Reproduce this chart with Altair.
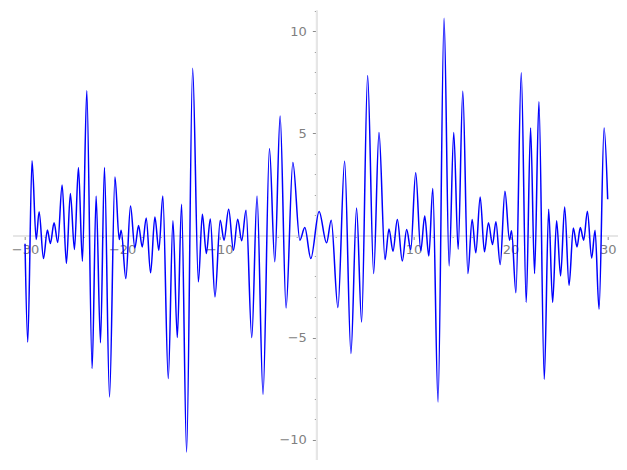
import altair as alt
import pandas as pd

# Curve (turning points of the oscillating signal)
xs = [-30.0, -29.72, -29.28, -28.85, -28.55, -28.1, -27.7, -27.39, -27.01, -26.63,
      -26.18, -25.74, -25.33, -24.91, -24.5, -24.09, -23.64, -23.09, -22.68, -22.23,
      -21.82, -21.3, -20.74, -20.3, -20.1, -19.62, -19.14, -18.69, -18.31, -17.93,
      -17.52, -17.07, -16.63, -16.22, -15.81, -15.25, -14.77, -14.32, -13.88, -13.36,
      -12.74, -12.15, -11.74, -11.33, -10.92, -10.44, -9.9, -9.51, -9.03, -8.54,
      -8.1, -7.69, -7.24, -6.65, -6.11, -5.49, -4.83, -4.28, -3.73, -3.12,
      -2.42, -1.7, -1.19, -0.57, 0.28, 1.05, 1.53, 2.22, 2.91, 3.56,
      4.14, 4.66, 5.28, 5.9, 6.45, 7.07, 7.48, 7.89, 8.34, 8.85,
      9.3, 9.72, 10.23, 10.75, 11.16, 11.58, 11.99, 12.53, 13.15, 13.67,
      14.15, 14.6, 15.08, 15.6, 16.04, 16.42, 16.87, 17.31, 17.72, 18.14,
      18.49, 18.93, 19.42, 19.89, 20.1, 20.55, 21.1, 21.61, 22.06, 22.47,
      22.92, 23.47, 23.92, 24.33, 24.74, 25.15, 25.57, 26.02, 26.46, 26.84,
      27.18, 27.53, 27.91, 28.35, 28.7, 29.11, 29.63, 30.0]
ys = [-0.4, -5.22, 3.66, -0.2, 1.16, -1.13, 0.27, -0.39, 0.62, -0.34,
      2.48, -1.37, 2.06, -0.69, 3.33, -1.26, 7.09, -6.52, 1.93, -5.25,
      3.33, -7.91, 2.87, -0.2, 0.26, -2.11, 1.45, -0.61, 0.49, -0.56,
      0.86, -1.83, 0.91, -0.72, 1.93, -7.01, 0.72, -5.0, 1.53, -10.61,
      8.2, -2.27, 1.04, -0.88, 0.81, -3.01, 0.75, -0.23, 1.29, -0.72,
      0.8, -0.26, 1.24, -5.0, 1.93, -7.78, 4.26, -1.29, 5.85, -3.55,
      3.58, -0.23, 0.39, -1.13, 1.18, -0.36, 0.75, -3.53, 3.64, -5.78,
      1.35, -4.24, 7.84, -1.86, 5.05, -1.18, 0.32, -0.77, 0.78, -1.25,
      0.29, -0.69, 3.07, -0.75, 0.95, -1.01, 2.3, -8.16, 10.64, -1.49,
      5.05, -0.67, 7.07, -1.86, 0.78, -0.85, 1.89, -0.8, 0.62, -0.44,
      0.67, -1.42, 2.17, -0.23, 0.23, -2.81, 7.97, -3.28, 5.27, -1.86,
      6.55, -7.04, 1.29, -3.28, 0.72, -1.98, 1.4, -2.44, 0.37, -0.56,
      0.39, -0.23, 1.19, -1.1, 0.26, -3.61, 5.27, 1.78]

x_major = [-30, -20, -10, 10, 20, 30]
y_major = [-10, -5, 5, 10]
x_minor = [v for v in range(-30, 31, 2) if v != 0 and v % 10 != 0]
y_minor = [v for v in range(-11, 12) if v != 0 and v % 5 != 0]

x_domain = [-31.27, 31.03]
y_domain = [-11.0, 11.05]

W, H = 605, 450
# y-axis sits at x = 0, x-axis sits at y = 0
yaxis_off = -(W * (0 - x_domain[0]) / (x_domain[1] - x_domain[0]))
xaxis_off = -(H * (0 - y_domain[0]) / (y_domain[1] - y_domain[0]))

df = pd.DataFrame({"x": xs, "y": ys})

xscale = alt.Scale(domain=x_domain, nice=False, zero=False)
yscale = alt.Scale(domain=y_domain, nice=False, zero=False)

common = dict(title=None, grid=False, domainColor="#e6e6e6", domainWidth=2,
              tickColor="#8c8c8c", tickWidth=1, labelColor="#808080",
              labelFont="DejaVu Sans", labelFontSize=13, zindex=0)

major_x = alt.Axis(orient="bottom", values=x_major, tickSize=4, labelPadding=4,
                   offset=xaxis_off, labelFlush=False, labelOverlap=False, **common)
major_y = alt.Axis(orient="left", values=y_major, tickSize=4, labelPadding=6,
                   offset=yaxis_off, labelOverlap=False, **common)
minor_x = alt.Axis(orient="bottom", values=x_minor, tickSize=2, labels=False,
                   offset=xaxis_off, **common)
minor_y = alt.Axis(orient="left", values=y_minor, tickSize=2, labels=False,
                   offset=yaxis_off, **common)

base = alt.Chart(df)
minor = base.mark_line(opacity=0).encode(
    x=alt.X("x:Q", scale=xscale, axis=minor_x),
    y=alt.Y("y:Q", scale=yscale, axis=minor_y),
)
line = base.mark_line(color="#0000ff", strokeWidth=1.5, interpolate="monotone").encode(
    x=alt.X("x:Q", scale=xscale, axis=major_x),
    y=alt.Y("y:Q", scale=yscale, axis=major_y),
    order=alt.Order("x:Q"),
)

chart = (
    alt.layer(minor, line)
    .resolve_axis(x="independent", y="independent")
    .properties(width=W, height=H, autosize="none",
                padding={"left": 4.7, "top": 2, "right": 0, "bottom": 0})
    .configure_view(stroke=None)
)

chart.save("out.html", embed_options={"renderer": "svg", "actions": False})
